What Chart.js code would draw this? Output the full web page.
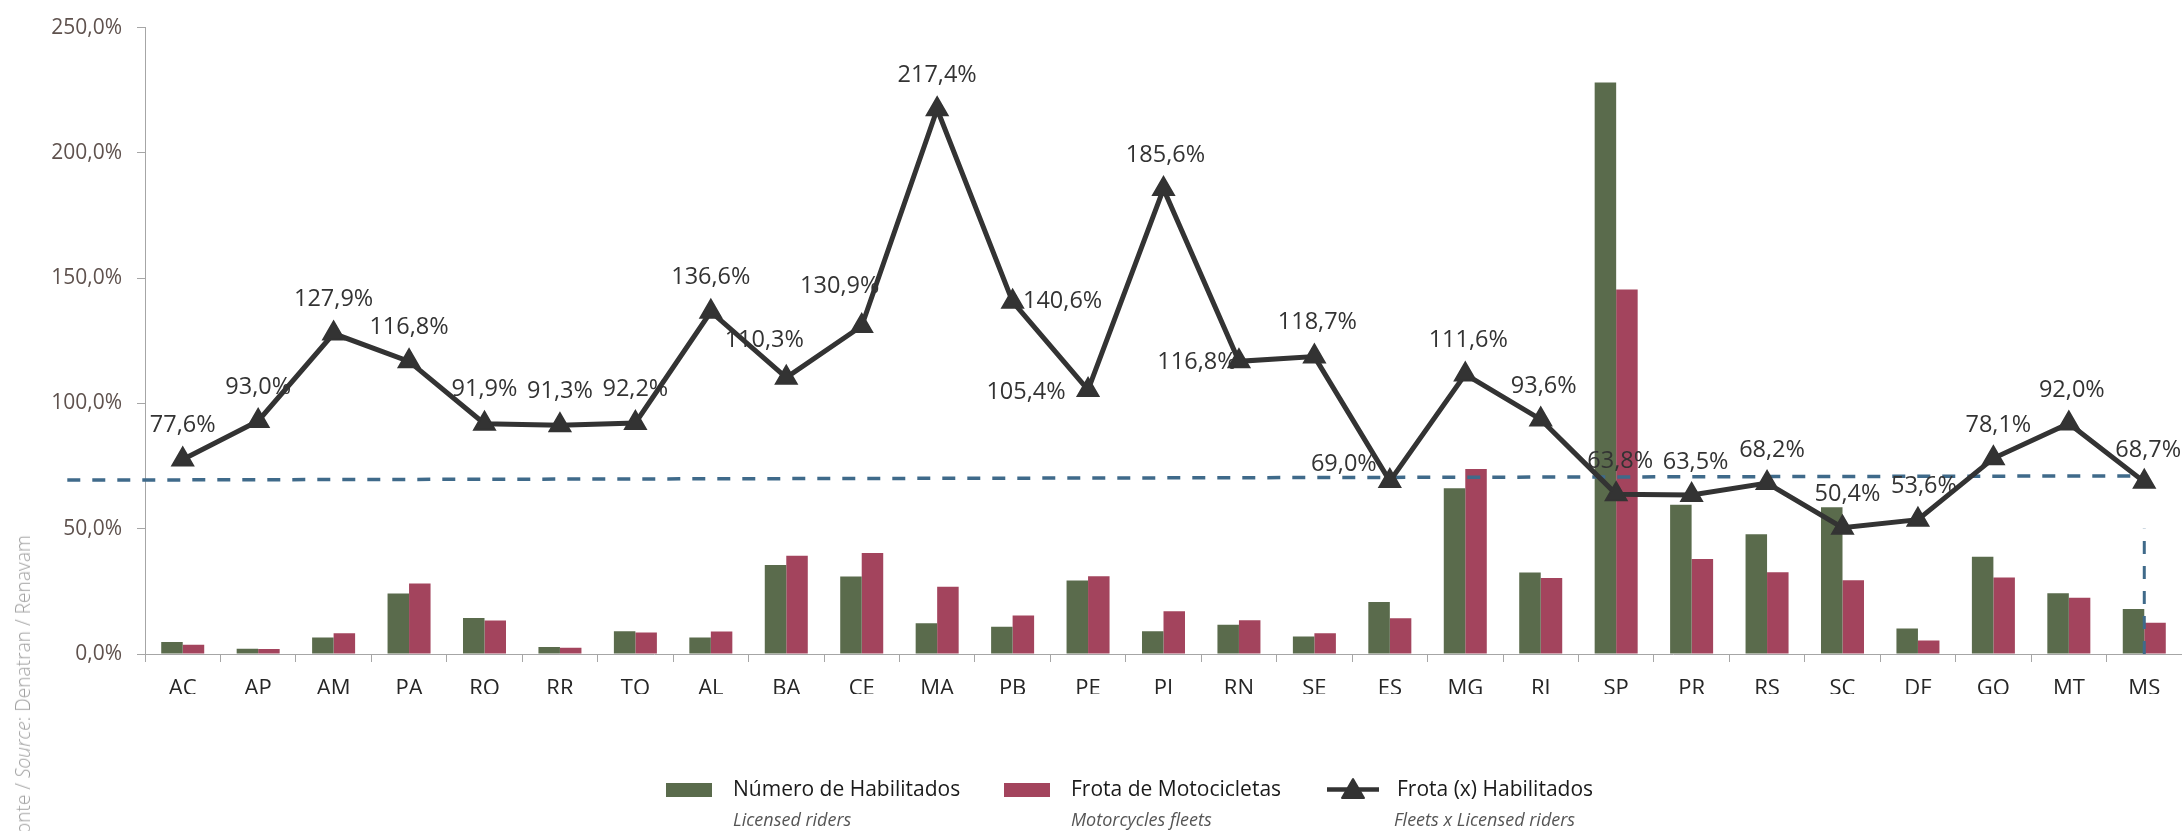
<!DOCTYPE html>
<html>
<head>
<meta charset="utf-8">
<script src="https://cdn.jsdelivr.net/npm/chart.js@4"></script>
<style>
  body { margin: 0; background: #fff; overflow: hidden; }
  #wrap { position: relative; width: 2182px; height: 831px; }
  #chart { position: absolute; left: 0; top: 0; }
  .lg-box { position: absolute; width: 46px; height: 14px; top: 783px; }
  .lg-text { position: absolute; font-family: "Open Sans", sans-serif; font-size: 21px; line-height: 21px; color: #1a1a1a; white-space: nowrap; top: 778px; }
  .lg-sub { position: absolute; font-family: "Open Sans", sans-serif; font-style: italic; font-size: 18px; line-height: 18px; color: #555; white-space: nowrap; top: 810px; }
  #source { position: absolute; left: 13px; top: 535px; font-family: "Open Sans", sans-serif; font-weight: 300; font-size: 19.2px; line-height: 20px; color: #a0a0a0; white-space: nowrap; transform-origin: left top; transform: rotate(-90deg) translateX(-100%); }
</style>
</head>
<body>
<div id="wrap">
  <canvas id="chart" width="2182" height="831"></canvas>
  <div id="source">Fonte / <i>Source</i>: Denatran / Renavam</div>

  <div class="lg-box" style="left:666px;background:#5a6b4c"></div>
  <div class="lg-text" style="left:733px">Número de Habilitados</div>
  <div class="lg-sub" style="left:733px">Licensed riders</div>

  <div class="lg-box" style="left:1004px;background:#a3445d"></div>
  <div class="lg-text" style="left:1071px">Frota de Motocicletas</div>
  <div class="lg-sub" style="left:1071px">Motorcycles fleets</div>

  <svg style="position:absolute;left:1327px;top:777px" width="52" height="24">
    <line x1="0" y1="12.5" x2="52" y2="12.5" stroke="#333" stroke-width="4.5"/>
    <polygon points="26,2 15,21 37,21" fill="#333" stroke="#333" stroke-width="2" stroke-linejoin="round"/>
  </svg>
  <div class="lg-text" style="left:1397px">Frota (x) Habilitados</div>
  <div class="lg-sub" style="left:1394px">Fleets x Licensed riders</div>
</div>

<script>
// categories (states)
const states = ['AC', 'AP', 'AM', 'PA', 'RO', 'RR', 'TO', 'AL', 'BA', 'CE', 'MA', 'PB', 'PE', 'PI',
  'RN', 'SE', 'ES', 'MG', 'RJ', 'SP', 'PR', 'RS', 'SC', 'DF', 'GO', 'MT', 'MS'];

// bars, read against the left axis
const habilitados = [4.8, 2.1, 6.6, 24.1, 14.4, 2.8, 9.1, 6.6, 35.5, 30.9, 12.3, 10.9, 29.3, 9.1,
  11.7, 7.0, 20.8, 66.2, 32.5, 228.1, 59.6, 47.8, 58.6, 10.2, 38.8, 24.2, 18.0];
const frota = [3.7, 2.0, 8.3, 28.1, 13.4, 2.5, 8.6, 9.0, 39.2, 40.3, 26.8, 15.4, 31.0, 17.1,
  13.5, 8.3, 14.3, 73.8, 30.3, 145.5, 37.9, 32.6, 29.4, 5.4, 30.5, 22.4, 12.5];

// Frota (x) Habilitados, %
const ratio = [77.6, 93.0, 127.9, 116.8, 91.9, 91.3, 92.2, 136.6, 110.3, 130.9, 217.4, 140.6, 105.4, 185.6,
  116.8, 118.7, 69.0, 111.6, 93.6, 63.8, 63.5, 68.2, 50.4, 53.6, 78.1, 92.0, 68.7];

// dashed reference lines (x in category index units, may run past the axis)
const refX = [-1.53, 26];
const refY = [69.4, 71.1];
const markX = [26, 26];
const markY = [0, 50];

const yTicks = [0, 50, 100, 150, 200, 250];

// label placement around each triangle, px
const labelOffsets = [
  [0, -34], [0, -34], [0, -34], [0, -34], [0, -34], [0, -34], [0, -34], [0, -34],
  [-22, -37], [-22, -40], [0, -34], [50, 0], [-62, 2], [2, -34],
  [-42, 1], [3, -34], [-46, -17], [3, -34], [3, -33], [4, -33], [4, -33], [5, -33],
  [5, -33], [6, -33], [5, -33], [3, -33], [4, -32]
];

const fmtPct = v => v.toFixed(1).replace('.', ',') + '%';

// dashed guide lines, drawn just before the ratio line so they sit above the bars
const guideLines = {
  id: 'guideLines',
  beforeDatasetDraw(chart, args) {
    if (args.index !== 0) return;
    const { ctx, scales: { x, y } } = chart;
    const seg = (xs, ys, w) => {
      ctx.beginPath();
      ctx.lineWidth = w;
      ctx.moveTo(x.getPixelForValue(xs[0]), y.getPixelForValue(ys[0]));
      ctx.lineTo(x.getPixelForValue(xs[1]), y.getPixelForValue(ys[1]));
      ctx.stroke();
    };
    ctx.save();
    ctx.strokeStyle = '#3f6a8a';
    ctx.setLineDash([13, 12]);
    seg(refX, refY, 3.5);
    seg(markX, markY, 3);
    ctx.restore();
  }
};

const lineLabels = {
  id: 'lineLabels',
  afterDatasetsDraw(chart) {
    const meta = chart.getDatasetMeta(0);
    const ctx = chart.ctx;
    ctx.save();
    ctx.font = '23.5px "Open Sans"';
    ctx.fillStyle = '#333333';
    ctx.textAlign = 'center';
    ctx.textBaseline = 'middle';
    meta.data.forEach((pt, i) => {
      const [dx, dy] = labelOffsets[i];
      ctx.fillText(fmtPct(ratio[i]), pt.x + dx, pt.y + dy);
    });
    ctx.restore();
  }
};

const axisGray = '#a6a6a6';

new Chart(document.getElementById('chart'), {
  type: 'bar',
  data: {
    labels: states,
    datasets: [
      {
        type: 'line',
        label: 'Frota (x) Habilitados',
        data: ratio,
        order: 0,
        borderColor: '#333333',
        borderWidth: 5,
        pointStyle: 'triangle',
        pointRadius: 12,
        pointBackgroundColor: '#333333',
        pointBorderColor: '#333333',
        pointBorderWidth: 2,
        tension: 0
      },
      {
        label: 'Número de Habilitados',
        data: habilitados,
        order: 1,
        backgroundColor: '#5a6b4c',
        barPercentage: 1,
        categoryPercentage: 0.57
      },
      {
        label: 'Frota de Motocicletas',
        data: frota,
        order: 1,
        backgroundColor: '#a3445d',
        barPercentage: 1,
        categoryPercentage: 0.57
      }
    ]
  },
  options: {
    responsive: false,
    devicePixelRatio: 1,
    animation: false,
    layout: { autoPadding: false, padding: { left: 0, right: 0, top: 25, bottom: 137 } },
    plugins: {
      legend: { display: false },
      tooltip: { enabled: false }
    },
    scales: {
      x: {
        grid: { drawOnChartArea: false, drawTicks: true, tickLength: 8, color: axisGray },
        border: { color: axisGray, width: 1 },
        ticks: { color: '#262626', font: { family: 'Open Sans', size: 22 }, padding: 14 },
        afterFit: s => { s.height = 40; s.paddingLeft = 0; s.paddingRight = 0; }
      },
      y: {
        min: yTicks[0],
        max: yTicks[yTicks.length - 1],
        afterBuildTicks: s => { s.ticks = yTicks.map(v => ({ value: v })); },
        grid: { drawOnChartArea: false, drawTicks: true, tickLength: 8, color: axisGray },
        border: { color: axisGray, width: 1 },
        ticks: { color: '#5f524e', font: { family: 'Open Sans', size: 21 }, padding: 15, callback: v => fmtPct(v) },
        afterFit: s => { s.width = 145; }
      }
    }
  },
  plugins: [guideLines, lineLabels]
});
</script>
</body>
</html>
